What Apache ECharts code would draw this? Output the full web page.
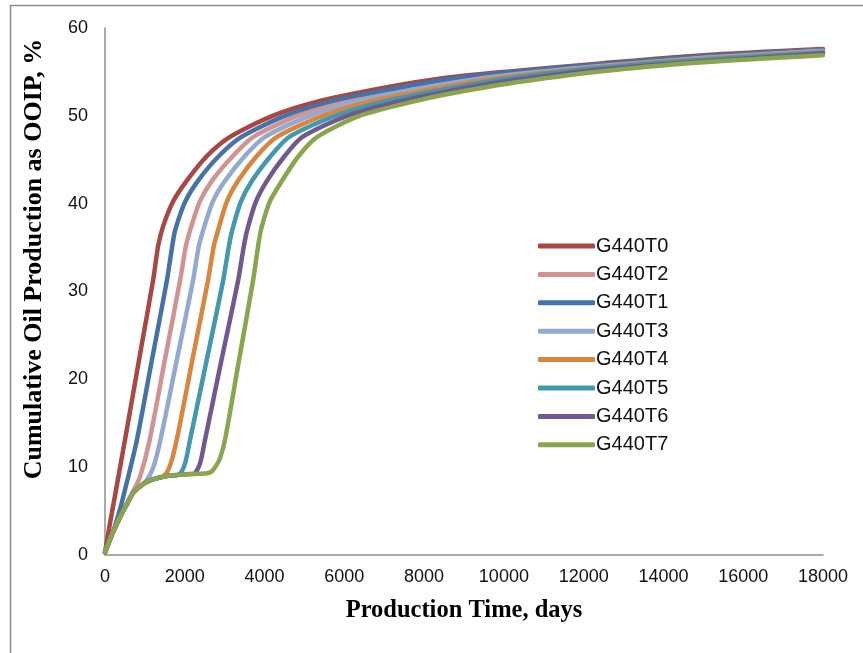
<!DOCTYPE html>
<html>
<head>
<meta charset="utf-8">
<title>Cumulative Oil Production</title>
<script src="https://cdn.jsdelivr.net/npm/echarts@6/dist/echarts.min.js"></script>
<style>
  html, body { margin: 0; padding: 0; background: #ffffff; }
  #chart { width: 863px; height: 653px; }
</style>
</head>
<body>
<div id="chart"></div>
<script>
// Cumulative oil recovery (% of OOIP) versus production time (days), one run per case.
// Each case is a list of [days, percent] points.
const G440T0 = [[0,0.3],[125,3.6],[292,7.8],[501,13.1],[900,23.4],[1203,31.2],[1337,35.3],[1462,37.5],[1713,40.3],[2047,42.6],[2550,45.4],[3133,47.6],[4200,50.0],[5390,51.7],[7000,53.2],[8500,54.3],[10000,55.0],[12500,56.0],[15000,56.9],[18000,57.6]];
const G440T1 = [[0,0.3],[50,0.9],[200,2.6],[376,5.2],[560,8.5],[800,13.1],[1180,22.3],[1550,31.2],[1680,35.0],[1755,36.9],[2008,40.2],[2330,42.6],[2850,45.4],[3420,47.6],[4510,50.0],[5700,51.7],[7000,52.9],[8500,54.1],[10000,54.9],[12500,55.9],[15000,56.8],[18000,57.5]];
const G440T2 = [[0,0.3],[50,0.9],[200,2.6],[376,4.3],[550,5.8],[710,7.3],[877,8.9],[1120,13.1],[1500,22.2],[1880,31.2],[2020,35.0],[2130,36.9],[2372,40.2],[2680,42.6],[3200,45.4],[3720,47.6],[4820,50.0],[6020,51.7],[7200,52.9],[8500,53.9],[10000,54.8],[12500,55.8],[15000,56.7],[18000,57.5]];
const G440T3 = [[0,0.3],[50,0.9],[200,2.6],[376,4.3],[550,5.8],[702,7.05],[900,7.9],[1045,8.5],[1211,10.0],[1390,13.1],[1800,22.2],[2205,31.2],[2345,35.0],[2457,36.9],[2700,40.2],[3010,42.6],[3500,45.4],[4010,47.6],[5130,50.0],[6350,51.7],[8500,53.6],[10000,54.6],[12500,55.7],[15000,56.6],[18000,57.4]];
const G440T4 = [[0,0.3],[50,0.9],[200,2.6],[376,4.3],[550,5.8],[702,7.05],[900,7.9],[1128,8.5],[1470,9.0],[1630,10.2],[1797,13.1],[2190,22.2],[2580,31.2],[2720,35.0],[2830,36.9],[3052,40.2],[3335,42.6],[3800,45.4],[4310,47.6],[5450,50.0],[6700,51.7],[8500,53.3],[10000,54.4],[12500,55.6],[15000,56.5],[18000,57.3]];
const G440T5 = [[0,0.3],[50,0.9],[200,2.6],[376,4.3],[550,5.8],[702,7.05],[900,7.9],[1128,8.5],[1554,9.0],[1850,9.15],[2005,10.4],[2131,13.1],[2550,22.2],[2960,31.2],[3100,35.0],[3185,36.9],[3405,40.2],[3685,42.6],[4150,45.4],[4620,47.6],[5760,50.0],[7050,51.7],[8500,53.0],[10000,54.2],[12500,55.5],[15000,56.4],[18000,57.2]];
const G440T6 = [[0,0.3],[50,0.9],[200,2.6],[376,4.3],[550,5.8],[702,7.05],[900,7.9],[1128,8.5],[1554,9.0],[2055,9.2],[2230,9.25],[2381,10.4],[2507,13.1],[2920,22.2],[3335,31.2],[3475,35.0],[3560,36.9],[3780,40.2],[4060,42.6],[4500,45.4],[4950,47.6],[6070,50.0],[7420,51.7],[8500,52.7],[10000,53.9],[12500,55.3],[15000,56.2],[18000,57.1]];
const G440T7 = [[0,0.3],[50,0.9],[200,2.6],[376,4.3],[550,5.8],[702,7.05],[900,7.9],[1128,8.5],[1554,9.0],[2055,9.2],[2556,9.3],[2673,9.5],[2790,10.2],[2883,11.0],[3008,13.1],[3360,22.2],[3710,31.2],[3850,35.5],[3920,37.2],[4128,40.2],[4437,42.6],[4850,45.4],[5320,47.6],[6380,50.0],[7800,51.7],[8500,52.4],[10000,53.6],[12500,55.1],[15000,56.1],[18000,56.9]];

// Drawing / legend order of the cases
const caseNames = ['G440T0', 'G440T2', 'G440T1', 'G440T3', 'G440T4', 'G440T5', 'G440T6', 'G440T7'];
const caseData = [G440T0, G440T2, G440T1, G440T3, G440T4, G440T5, G440T6, G440T7];
const caseColors = ['#AA4643', '#D19392', '#4572A7', '#93A9CF', '#DB843D', '#4198AF', '#71588F', '#89A54E'];

// Axis ranges
const xMin = 0, xMax = 18000, xStep = 2000;
const yMin = 0, yMax = 60, yStep = 10;

const xTitle = 'Production Time, days';
const yTitle = 'Cumulative Oil Production as OOIP, %';

const chart = echarts.init(document.getElementById('chart'), null, { renderer: 'canvas' });

const tickFont = { fontFamily: '"Liberation Sans", Arial, sans-serif', fontSize: 18, color: '#111111' };

chart.setOption({
  backgroundColor: '#ffffff',
  animation: false,
  grid: { left: 105, top: 28, width: 718, height: 527, containLabel: false },
  xAxis: {
    type: 'value',
    min: xMin, max: xMax, interval: xStep,
    axisLine: { show: true, lineStyle: { color: '#8e8e8e', width: 1.5 } },
    axisTick: { show: false },
    splitLine: { show: false },
    axisLabel: Object.assign({ margin: 13, formatter: v => String(v) }, tickFont)
  },
  yAxis: {
    type: 'value',
    min: yMin, max: yMax, interval: yStep,
    axisLine: { show: true, lineStyle: { color: '#8e8e8e', width: 1.5 } },
    axisTick: { show: false },
    splitLine: { show: false },
    axisLabel: Object.assign({ margin: 17, formatter: v => String(v) }, tickFont)
  },
  legend: {
    orient: 'vertical',
    left: 533,
    top: 231,
    data: caseNames,
    icon: 'roundRect',
    itemWidth: 57,
    itemHeight: 5,
    itemGap: 8.4,
    textStyle: { fontFamily: '"Liberation Sans", Arial, sans-serif', fontSize: 20, color: '#111111', lineHeight: 20, padding: [0, 0, 0, -4] }
  },
  graphic: [
    {
      type: 'rect',
      silent: true,
      shape: { x: 10.5, y: 5.5, width: 880, height: 680 },
      style: { fill: 'none', stroke: '#8c8c8c', lineWidth: 1.5 }
    },
    {
      type: 'text',
      silent: true,
      x: 464, y: 611,
      style: {
        text: xTitle,
        font: 'bold 24.5px "Liberation Serif", "Times New Roman", serif',
        fill: '#000000',
        align: 'center',
        verticalAlign: 'middle'
      }
    },
    {
      type: 'text',
      silent: true,
      x: 34, y: 259,
      rotation: Math.PI / 2,
      style: {
        text: yTitle,
        font: 'bold 26px "Liberation Serif", "Times New Roman", serif',
        fill: '#000000',
        align: 'center',
        verticalAlign: 'middle'
      }
    }
  ],
  series: caseNames.map((name, i) => ({
    name: name,
    type: 'line',
    data: caseData[i],
    showSymbol: false,
    symbol: 'none',
    smooth: 0.25,
    color: caseColors[i],
    lineStyle: { color: caseColors[i], width: 4.5, cap: 'round', join: 'round' },
    emphasis: { disabled: true }
  }))
});
</script>
</body>
</html>
